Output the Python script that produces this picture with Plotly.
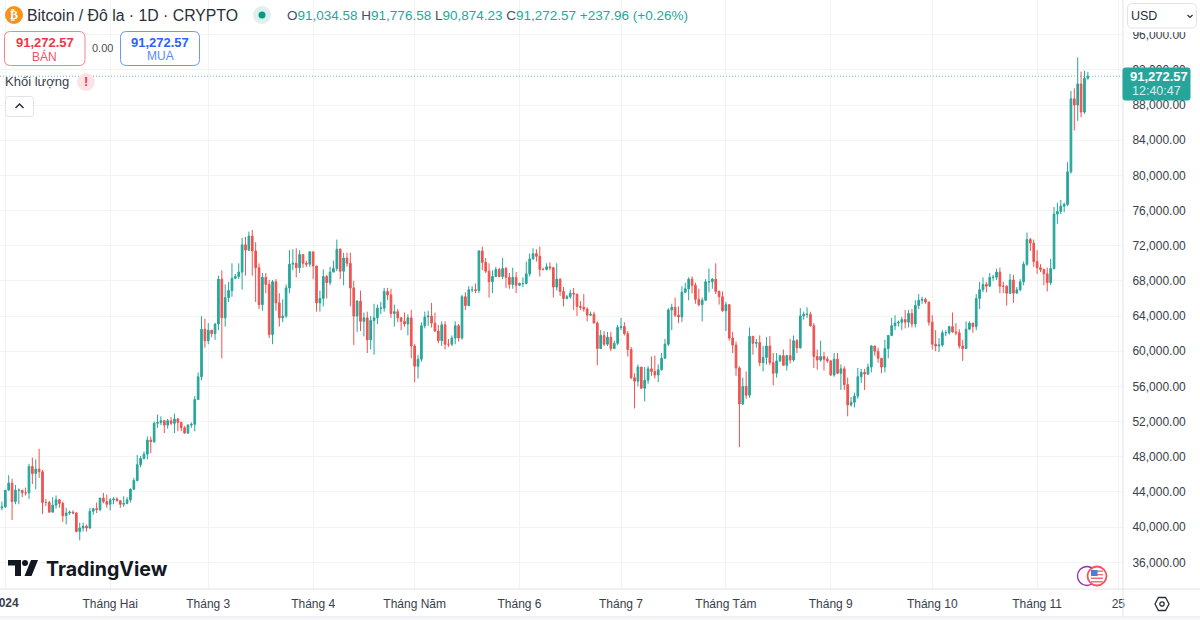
import pandas as pd
import plotly.graph_objects as go

# Daily candles, USD thousands. First row is 31 Dec 2023; open of each day = previous close.
first_open = 42.2
closes = [42.3,
 44.2,45.0,42.9,44.2,44.2,43.9,43.9,46.9,46.1,46.6,46.3,42.8,42.8,41.7,42.5,43.1,42.7,41.3,41.6,41.7,41.6,39.5,39.9,40.1,39.9,41.8,42.1,42.0,43.3,42.9,42.6,
 43.1,43.2,43.0,42.6,42.7,43.1,44.3,45.3,47.1,47.8,48.3,49.9,49.7,51.8,51.9,52.1,51.6,52.1,51.8,52.3,51.9,51.3,50.7,51.6,51.7,54.5,57.1,62.5,61.2,
 62.4,62.0,63.1,68.2,63.8,66.1,66.9,68.3,68.5,69.0,72.1,71.5,73.1,71.4,69.5,65.3,68.4,67.6,61.9,67.9,65.5,63.8,64.0,67.2,69.9,70.0,69.5,71.0,70.0,69.9,71.3,
 69.7,65.5,66.0,68.5,67.8,69.0,69.4,71.6,69.1,70.6,70.0,67.2,64.0,65.7,63.4,63.8,61.3,63.5,63.8,64.9,64.9,66.8,66.4,64.3,64.5,63.8,63.4,63.1,63.8,60.6,
 58.3,59.1,62.9,63.9,64.0,63.2,62.3,61.2,63.0,60.8,60.8,61.5,62.9,61.5,66.2,65.2,67.0,67.0,66.9,71.4,70.1,69.1,67.9,68.5,69.3,68.5,69.4,68.4,67.6,68.4,67.5,
 67.7,67.7,68.8,70.5,71.1,70.8,69.3,69.3,69.6,69.5,67.3,68.2,66.8,66.0,66.2,66.6,66.5,65.1,65.0,64.8,64.1,64.2,63.2,60.3,61.8,60.8,61.6,60.3,60.9,62.7,
 62.8,62.0,60.2,57.0,56.6,58.2,55.8,56.7,58.0,57.7,57.3,57.9,59.2,60.8,64.7,65.0,64.1,63.9,66.7,67.1,68.2,67.5,65.9,65.3,65.8,67.9,67.9,68.2,66.8,66.2,64.6,
 65.3,61.5,60.7,58.1,54.0,56.0,55.0,61.7,60.9,61.0,58.7,59.3,60.6,58.7,57.5,58.9,59.5,58.4,59.5,59.0,61.2,60.4,64.0,64.2,64.2,62.9,59.4,59.0,59.4,59.1,58.9,
 57.3,59.1,57.5,58.0,56.2,53.9,54.2,54.9,57.1,57.6,57.4,58.2,60.6,60.0,59.2,58.2,60.3,61.8,62.9,63.2,63.3,63.6,63.3,64.3,63.1,65.2,65.8,65.9,65.6,63.3,
 60.8,60.6,60.7,62.1,62.1,62.8,62.2,62.1,60.6,60.3,62.5,63.2,62.8,66.0,67.0,67.6,67.4,68.4,68.4,69.0,67.4,67.4,66.6,68.1,66.6,67.0,67.9,69.9,72.7,72.3,70.2,
 69.5,69.3,68.8,67.8,69.4,75.6,75.9,76.5,76.7,80.4,88.7,88.0,90.4,87.2,91.03458,91.27257]
highs = [42.9,
 44.2,45.9,45.5,44.8,44.4,44.2,44.5,47.2,47.9,47.7,48.9,46.5,43.2,43.0,43.4,43.6,43.2,42.9,42.2,41.9,41.9,41.7,40.5,40.5,40.3,42.2,42.2,42.8,43.3,43.9,43.7,
 43.3,43.4,43.4,43.1,43.5,43.4,44.4,45.6,48.2,48.1,48.6,50.3,50.3,52.0,52.8,52.6,52.2,52.3,52.5,52.9,52.4,52.0,51.5,51.7,51.9,54.9,57.6,64.0,63.7,
 63.2,62.4,63.2,68.6,69.2,67.6,67.9,70.0,68.8,70.0,72.9,73.0,73.6,73.8,72.4,70.0,68.9,68.9,68.1,68.1,68.2,66.6,65.9,67.6,71.5,71.6,71.7,71.5,71.0,70.3,71.4,
 71.3,69.7,66.9,69.3,68.7,69.6,70.3,72.7,71.7,71.2,71.2,71.2,68.0,65.8,66.9,64.4,64.5,64.0,65.4,65.3,65.6,67.2,67.2,67.1,65.3,64.8,63.9,64.4,64.2,64.7,
 60.8,59.6,63.3,64.5,64.6,65.5,64.4,63.0,63.4,63.4,61.4,61.8,63.4,63.1,66.4,66.7,67.4,67.4,67.7,71.5,71.9,70.6,70.0,69.2,69.6,69.5,70.6,69.6,68.9,69.5,69.0,
 67.8,68.4,70.2,71.1,71.7,71.6,71.9,69.5,70.0,70.1,69.6,70.0,68.3,67.3,66.4,67.0,67.2,66.5,65.7,66.5,65.0,64.5,64.5,63.4,62.4,62.3,62.2,62.2,61.2,63.0,
 63.8,63.3,62.3,60.5,57.5,58.5,58.2,58.2,58.3,59.4,59.5,58.5,59.8,61.4,64.9,65.4,66.1,65.1,67.4,67.8,68.4,68.5,67.8,67.1,66.1,68.2,69.4,68.3,70.0,66.9,66.8,
 65.6,65.0,62.2,61.1,58.3,57.0,57.7,62.7,61.7,61.4,61.8,60.6,61.6,61.7,59.8,59.8,59.6,60.2,59.6,61.4,61.8,61.4,64.9,64.5,65.0,64.5,63.2,60.2,61.2,59.9,59.4,
 59.0,59.8,59.8,58.5,58.3,57.0,54.8,55.3,58.1,58.0,58.0,58.6,60.7,60.6,60.4,59.2,61.3,61.8,63.8,64.1,63.5,63.9,64.7,64.7,64.8,65.8,66.5,66.2,66.1,65.6,
 64.1,62.4,61.5,62.4,62.4,62.9,64.4,63.2,62.5,61.3,63.4,63.4,63.2,66.5,67.9,68.4,67.9,68.9,68.7,69.4,69.5,67.9,67.5,68.8,68.7,67.3,68.2,70.2,73.5,72.9,72.7,
 71.5,69.9,69.4,69.5,70.5,76.4,76.9,77.2,76.9,81.5,89.6,89.9,93.4,91.8,91.9,91.77658]
lows = [41.9,
 42.2,44.2,40.8,42.6,42.6,43.4,43.6,43.2,44.9,44.3,45.6,41.5,42.4,41.7,41.7,42.1,42.2,40.6,40.3,41.4,41.5,39.4,38.5,39.5,39.5,39.8,41.4,41.6,41.8,42.7,42.2,
 41.9,42.6,42.9,42.2,42.3,42.6,42.8,44.3,45.2,46.8,47.7,47.7,48.4,49.6,51.3,51.6,50.7,51.2,51.6,50.7,50.9,50.9,50.6,50.6,51.3,50.9,54.5,56.7,60.4,
 60.8,61.6,61.3,62.4,59.2,62.8,65.6,66.2,68.2,68.2,67.0,68.6,71.4,68.6,65.6,64.8,64.6,66.6,61.5,60.8,64.6,62.8,63.3,63.8,66.6,69.2,68.4,68.9,69.5,69.6,69.6,
 68.2,64.5,64.5,65.1,66.0,67.5,69.0,69.1,68.2,67.5,69.6,65.1,60.7,62.2,62.3,61.7,59.8,60.2,59.6,63.1,64.2,64.5,65.8,63.8,62.8,63.3,62.4,62.8,61.8,59.2,
 56.5,56.9,58.8,62.6,62.9,62.7,62.2,60.9,60.6,60.2,60.5,60.6,60.8,61.1,61.3,64.7,65.1,66.7,66.6,66.6,69.2,68.9,66.1,66.6,68.5,68.4,68.2,67.2,67.1,67.1,66.6,
 67.4,67.3,67.6,68.5,70.4,70.2,68.5,69.2,69.2,69.2,66.1,66.9,66.3,65.1,65.9,66.0,64.7,64.0,64.7,64.5,63.4,64.0,63.2,58.4,60.3,60.6,60.6,60.0,60.4,60.7,
 62.4,61.8,59.4,56.8,53.5,56.0,55.7,54.3,56.3,57.2,56.9,56.5,57.8,59.3,60.6,62.4,63.9,63.2,63.3,66.6,65.8,66.6,65.4,65.1,63.4,65.7,66.7,67.1,66.5,65.3,64.5,
 62.3,61.2,59.8,57.2,49.1,53.9,54.6,54.7,59.6,60.4,58.3,57.7,58.5,58.4,56.1,57.0,58.8,58.4,57.8,58.6,58.8,59.8,60.3,63.6,63.8,62.8,58.1,57.9,58.8,57.8,58.7,
 57.2,57.1,57.4,55.6,55.6,52.6,53.7,53.6,54.6,56.4,55.6,57.3,57.6,59.5,58.7,57.5,57.6,59.2,61.7,62.4,62.8,62.4,62.6,62.7,62.7,62.7,64.8,65.4,65.4,62.9,
 60.2,60.0,59.9,60.5,61.7,61.9,62.1,61.8,60.3,58.9,60.4,62.4,62.1,62.4,64.8,66.7,66.7,67.4,68.0,68.1,66.6,66.6,65.2,66.5,65.5,66.6,66.8,67.5,69.7,71.4,69.6,
 68.8,69.0,67.5,66.8,67.5,69.3,74.5,75.6,75.8,76.5,80.2,85.1,86.2,86.6,87.0,90.87423]

price_ticks = [36,40,44,48,52,56,60,64,68,72,76,80,84,88,92,96]
month_ticks = ["2024-01-01","2024-02-01","2024-03-01","2024-04-01","2024-05-01","2024-06-01",
               "2024-07-01","2024-08-01","2024-09-01","2024-10-01","2024-11-01","2024-11-25"]
month_labels = ["","Tháng Hai","Tháng 3","Tháng 4","Tháng Năm","Tháng 6",
                "Tháng 7","Tháng Tám","Tháng 9","Tháng 10","Tháng 11","25"]
year_label = "2024"
ohlc_text = [("O","91,034.58"),("H","91,776.58"),("L","90,874.23"),("C","91,272.57")]
change_text = "+237.96 (+0.26%)"

UP, DOWN = "#26a69a", "#ef5350"
INK = "#131722"
BORDER = "#e0e3eb"
GRID = "#f3f3f4"
FONT = "Liberation Sans"
W, H, PW, PH = 1200, 620, 1123, 589

dates = pd.date_range("2023-12-31", periods=len(closes), freq="D")
opens = [first_open] + closes[:-1]
k = lambda a: [v * 1000 for v in a]

# Axis windows: Jan 1 sits at px 5.3, 3.383 px per day; 88,000 at y=105, 36,000 at y=562.3
x0 = pd.Timestamp("2024-01-01")
xr = [x0 + pd.Timedelta(days=(0 - 5.3) / 3.383), x0 + pd.Timedelta(days=(PW - 5.3) / 3.383)]
ppx = 8.794 / 1000
yr = [36000 - (PH - 562.3) / ppx, 36000 + 562.3 / ppx]

fig = go.Figure(go.Candlestick(
    x=dates, open=k(opens), high=k(highs), low=k(lows), close=k(closes),
    increasing=dict(line=dict(color=UP, width=1), fillcolor=UP),
    decreasing=dict(line=dict(color=DOWN, width=1), fillcolor=DOWN),
    whiskerwidth=0, hoverinfo="skip", showlegend=False,
))

px = lambda x: x / PW
py = lambda y: 1 - y / PH
shapes, annots = [], []

def rrect(x1, y1, x2, y2, r, line=None, fill="white", lw=1):
    p = (f"M {px(x1+r)} {py(y1)} L {px(x2-r)} {py(y1)} Q {px(x2)} {py(y1)} {px(x2)} {py(y1+r)} "
         f"L {px(x2)} {py(y2-r)} Q {px(x2)} {py(y2)} {px(x2-r)} {py(y2)} "
         f"L {px(x1+r)} {py(y2)} Q {px(x1)} {py(y2)} {px(x1)} {py(y2-r)} "
         f"L {px(x1)} {py(y1+r)} Q {px(x1)} {py(y1)} {px(x1+r)} {py(y1)} Z")
    shapes.append(dict(type="path", xref="paper", yref="paper", path=p, fillcolor=fill,
                       line=dict(color=line or fill, width=lw), layer="above"))

def rect(x1, y1, x2, y2, fill):
    shapes.append(dict(type="rect", xref="paper", yref="paper", x0=px(x1), x1=px(x2), y0=py(y2), y1=py(y1),
                       fillcolor=fill, line=dict(width=0), layer="above"))

def circle(cx, cy, r, fill, line=None, lw=1):
    shapes.append(dict(type="circle", xref="paper", yref="paper", x0=px(cx-r), x1=px(cx+r), y0=py(cy+r), y1=py(cy-r),
                       fillcolor=fill, line=dict(color=line or fill, width=lw if line else 0), layer="above"))

def poly(pts, fill=None, line=None, lw=1, close=True):
    p = "M " + " L ".join(f"{px(a)} {py(b)}" for a, b in pts) + (" Z" if close else "")
    shapes.append(dict(type="path", xref="paper", yref="paper", path=p, fillcolor=fill or "rgba(0,0,0,0)",
                       line=dict(color=line or "rgba(0,0,0,0)", width=lw if line else 0), layer="above"))

def seg(x1, y1, x2, y2, color, lw=1):
    shapes.append(dict(type="line", xref="paper", yref="paper", x0=px(x1), x1=px(x2), y0=py(y1), y1=py(y2),
                       line=dict(color=color, width=lw), layer="above"))

def txt(x, y, s, size=12, color=INK, anchor="left", family=FONT):
    annots.append(dict(xref="paper", yref="paper", x=px(x), y=py(y), text=s, showarrow=False,
                       xanchor=anchor, yanchor="middle", borderpad=0, borderwidth=0,
                       font=dict(size=size, color=color, family=family)))

# Last-price dotted line
shapes.append(dict(type="line", xref="paper", yref="y", x0=0, x1=1, y0=closes[-1]*1000, y1=closes[-1]*1000,
                   line=dict(color="rgba(38,166,154,0.7)", width=1, dash="1px,2px"), layer="above"))

# Frame lines
seg(PW, 0, PW, 617, BORDER)
seg(0, PH, W, PH, BORDER)
seg(0, 617, W, 617, BORDER)
rect(0, 618, W, 620, "#f7f7f8")
txt(5, 603, f"<b>{year_label}</b>", 12, "#3a3e49", "center")

# Header
circle(14, 15, 9, "#f7931a")
txt(14, 15, "<b>₿</b>", 12, "white", "center", "DejaVu Sans")
txt(27, 15, "Bitcoin / Đô la · 1D · CRYPTO", 15.8, "#2a2e39")
circle(262, 15, 9, "#dff1ee")
circle(262, 15, 3.5, "#089981")
ohlc = " ".join(f'<span style="color:#4a4e59">{a}</span><span style="color:{UP}">{b}</span>' for a, b in ohlc_text)
txt(287, 15, f'{ohlc} <span style="color:{UP}">{change_text}</span>', 13.5, UP)

# Buy / sell
rrect(4.5, 31.5, 85, 65.5, 6, "#f7828c")
txt(44.5, 42.5, "<b>91,272.57</b>", 13, "#f23645", "center")
txt(44.5, 56.5, "BÁN", 12, "#f7525f", "center")
txt(102, 48, "0.00", 11, "#4a4e59", "center")
rrect(120.5, 31.5, 199.5, 65.5, 6, "#6e93ff")
txt(160, 42.5, "<b>91,272.57</b>", 13, "#2962ff", "center")
txt(160, 56.5, "MUA", 12, "#5b86ff", "center")

# Volume row
txt(5, 81.5, "Khối lượng", 13, "#3a3e49")
circle(86, 82, 9, "#fde3e6")
txt(86, 82, "<b>!</b>", 13, "#f23645", "center")
rrect(5.5, 96.5, 33.5, 116.5, 3, BORDER)
poly([(15.5, 108), (19.5, 104), (23.5, 108)], line="#2a2e39", lw=1.5, close=False)

# Price tag + currency box
rrect(1123, 68, 1190, 100, 2, UP, fill=UP)
txt(1159, 76.5, "<b>91,272.57</b>", 13, "white", "center")
txt(1156, 91, "12:40:47", 12.5, "#d4efeb", "center")
rect(1125, 4, 1200, 32, "white")
rrect(1127.5, 3.5, 1196.5, 28, 5, BORDER)
txt(1131, 16, "USD", 12.5, "#2a2e39")
poly([(1187.5, 15), (1190, 17.5), (1192.5, 15)], line="#2a2e39", lw=1.2, close=False)

# TradingView logo
poly([(8, 560), (21, 560), (21, 576), (15, 576), (15, 565.5), (8, 565.5)], fill=INK)
circle(25, 563, 3, INK)
poly([(31, 560), (38, 560), (31.5, 576), (24.5, 576)], fill=INK)
txt(45.5, 568.5, "<b>TradingView</b>", 19.6, INK, "left", "Inter")

# Event markers
circle(1087, 576, 9.5, "white", "#9c27b0", 1.3)
circle(1097, 576, 9.5, "white", "#f7525f", 1.8)
for yy, h in [(570.5, 1.4), (574, 1.4), (577.5, 1.6), (581, 1.5)]:
    rect(1091, yy, 1103, yy + h, "#ef6e78")
rect(1091, 570, 1097.5, 576, "#4a7fd6")

# Settings gear
poly([(1155, 604), (1158.5, 597.5), (1165.5, 597.5), (1169, 604), (1165.5, 610.5), (1158.5, 610.5)], line="#2a2e39", lw=1.3)
circle(1162, 604, 2.2, "white", "#2a2e39", 1.3)

fig.update_layout(
    width=W, height=H, autosize=False,
    margin=dict(l=0, r=W - PW, t=0, b=H - PH, pad=0),
    paper_bgcolor="white", plot_bgcolor="white",
    showlegend=False, hovermode=False, dragmode=False, boxgap=0.3,
    font=dict(family=FONT, size=12, color="#3a3e49"),
    shapes=shapes, annotations=annots,
    xaxis=dict(type="date", range=xr, rangeslider=dict(visible=False), tickmode="array",
               tickvals=month_ticks, ticktext=month_labels, showgrid=True, gridcolor=GRID, gridwidth=1,
               zeroline=False, showline=False, ticks="outside", ticklen=4, tickcolor="rgba(0,0,0,0)",
               tickfont=dict(size=12, color="#3a3e49", family=FONT)),
    yaxis=dict(side="right", range=yr, tickmode="array", tickvals=[t * 1000 for t in price_ticks],
               tickformat=",.2f", showgrid=True, gridcolor=GRID, gridwidth=1, zeroline=False, showline=False,
               ticks="outside", ticklen=6, tickcolor="rgba(0,0,0,0)",
               tickfont=dict(size=12, color="#3a3e49", family=FONT)),
)

fig.write_html("out.html", config={"displayModeBar": False, "staticPlot": True},
               post_script="document.body.style.margin='0';document.body.style.overflow='hidden';")
